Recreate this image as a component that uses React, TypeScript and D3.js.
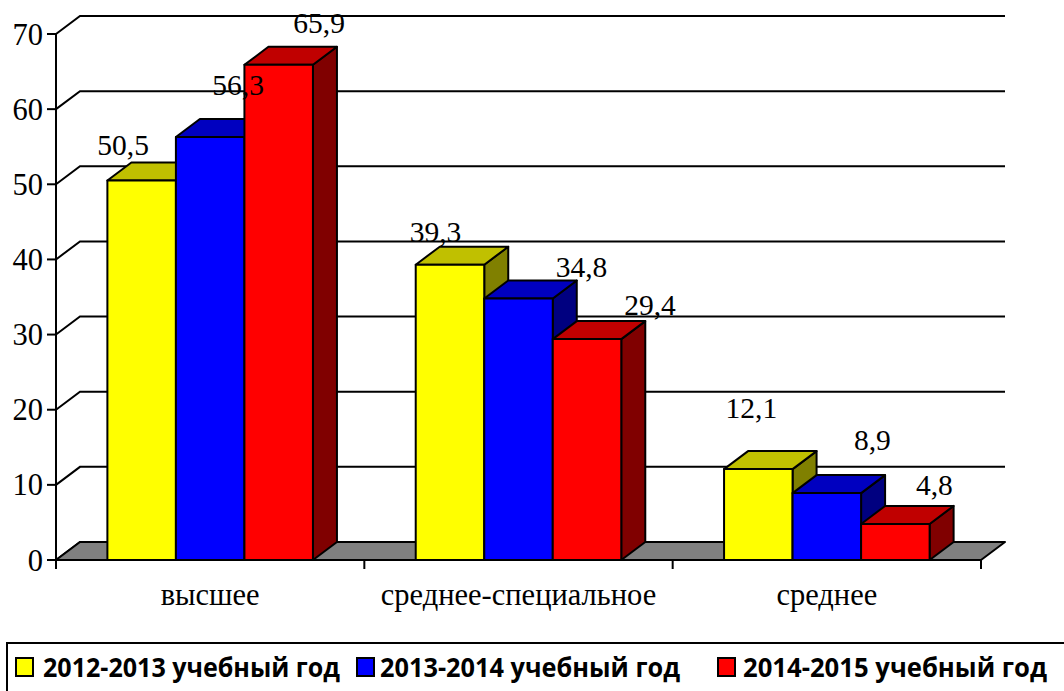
import React from "react";
import * as d3 from "d3";

const categories = ["высшее", "среднее-специальное", "среднее"];
const seriesNames = ["2012-2013 учебный год", "2013-2014 учебный год", "2014-2015 учебный год"];
const values2012 = [50.5, 39.3, 12.1];
const values2013 = [56.3, 34.8, 8.9];
const values2014 = [65.9, 29.4, 4.8];
const yTicks = [0, 10, 20, 30, 40, 50, 60, 70];

const seriesValues = [values2012, values2013, values2014];

// styles / layout
const FRONT = ["#FFFF00", "#0000FF", "#FF0000"];
const TOP = ["#C0C000", "#0000C0", "#C00000"];
const SIDE = ["#808000", "#000080", "#800000"];
const DX = 24;
const DY = 18;
// label nudges relative to the front-top centre of each bar [category][series]
const LABEL_DX = [[-18.5, 28, 40.5], [-14.5, 63, 63], [-7, 45.5, 39]];
const LABEL_DY = [[25.5, 42, 31.8], [23, 21.8, 24], [50.8, 43, 29]];
const LEGEND_SW_X = [16, 357, 718];
const LEGEND_TX_X = [43, 380, 743];
const LEGEND_TX_W = [297, 300, 304];

const SERIF = "Liberation Serif, Times New Roman, Times, DejaVu Serif, serif";

export default function App() {
  const W = 1064, H = 691;
  const x0 = 56, x1 = 981;
  const y = d3.scaleLinear().domain([0, 70]).range([560, 34]);
  const xBand = d3.scaleBand<string>().domain(categories).range([x0, x1]).paddingInner(1 / 3).paddingOuter(1 / 6);
  const xSeries = d3.scaleBand<string>().domain(seriesNames).range([0, xBand.bandwidth()]);
  const y0 = y(0);
  const serifStyle = { fontFamily: SERIF };

  const bars: React.ReactNode[] = [];
  const labels: React.ReactNode[] = [];
  categories.forEach((c, ci) => {
    seriesNames.forEach((s, si) => {
      const v = seriesValues[si][ci];
      const bx = (xBand(c) as number) + (xSeries(s) as number);
      const bw = xSeries.bandwidth();
      const ty = y(v);
      const front = `M${bx},${ty}L${bx + bw},${ty}L${bx + bw},${y0}L${bx},${y0}Z`;
      const top = `M${bx},${ty}L${bx + DX},${ty - DY}L${bx + bw + DX},${ty - DY}L${bx + bw},${ty}Z`;
      const side = `M${bx + bw},${ty}L${bx + bw + DX},${ty - DY}L${bx + bw + DX},${y0 - DY}L${bx + bw},${y0}Z`;
      bars.push(
        <g key={`b${ci}-${si}`} stroke="#000" strokeWidth={2} strokeLinejoin="round">
          <path d={side} fill={SIDE[si]} />
          <path d={top} fill={TOP[si]} />
          <path d={front} fill={FRONT[si]} />
        </g>
      );
      labels.push(
        <text key={`l${ci}-${si}`} x={bx + bw / 2 + LABEL_DX[ci][si]} y={ty - LABEL_DY[ci][si]}
          textAnchor="middle" style={serifStyle} fontSize={29.5} fill="#000">
          {String(v).replace(".", ",")}
        </text>
      );
    });
  });

  return (
    <svg width={W} height={H} style={{ position: "absolute", left: 0, top: 0, background: "#fff" }}>
      {yTicks.map((t) => (
        <path key={`g${t}`} d={`M${x0},${y(t)}L${x0 + DX},${y(t) - DY}L${x1 + DX},${y(t) - DY}`}
          stroke="#000" strokeWidth={2} fill="none" />
      ))}
      <path d={`M${x0},${y0}L${x0 + DX},${y0 - DY}L${x1 + DX},${y0 - DY}L${x1},${y0}Z`}
        fill="#808080" stroke="#000" strokeWidth={2} strokeLinejoin="round" />
      <line x1={x0} x2={x0} y1={y(70)} y2={y0 + 9} stroke="#000" strokeWidth={2} />
      {yTicks.map((t) => (
        <g key={`t${t}`}>
          <line x1={x0 - 9} x2={x0} y1={y(t)} y2={y(t)} stroke="#000" strokeWidth={2} />
          <text x={x0 - 13} y={y(t) + 10.5} textAnchor="end" style={serifStyle} fontSize={30.5} fill="#000">{t}</text>
        </g>
      ))}
      <line x1={x0} x2={x1} y1={y0} y2={y0} stroke="#000" strokeWidth={2} />
      {d3.range(categories.length + 1).map((i) => {
        const xx = x0 + i * xBand.step();
        return <line key={`xt${i}`} x1={xx} x2={xx} y1={y0} y2={y0 + 9} stroke="#000" strokeWidth={2} />;
      })}
      {categories.map((c) => (
        <text key={`c${c}`} x={(xBand(c) as number) + xBand.bandwidth() / 2} y={605}
          textAnchor="middle" style={serifStyle} fontSize={30.5} fill="#000">{c}</text>
      ))}
      {bars}
      {labels}
      <rect x={7} y={643} width={1100} height={100} fill="#fff" stroke="#000" strokeWidth={2} />
      {seriesNames.map((s, i) => (
        <g key={`lg${i}`}>
          <rect x={LEGEND_SW_X[i]} y={658} width={17} height={18} fill={FRONT[i]} stroke="#000" strokeWidth={2} />
          <text x={LEGEND_TX_X[i]} y={677} style={{ fontFamily: "Open Sans, Noto Sans, sans-serif" }} fontWeight="bold"
            fontSize={27} textLength={LEGEND_TX_W[i]} lengthAdjust="spacingAndGlyphs" fill="#000">{s}</text>
        </g>
      ))}
    </svg>
  );
}
